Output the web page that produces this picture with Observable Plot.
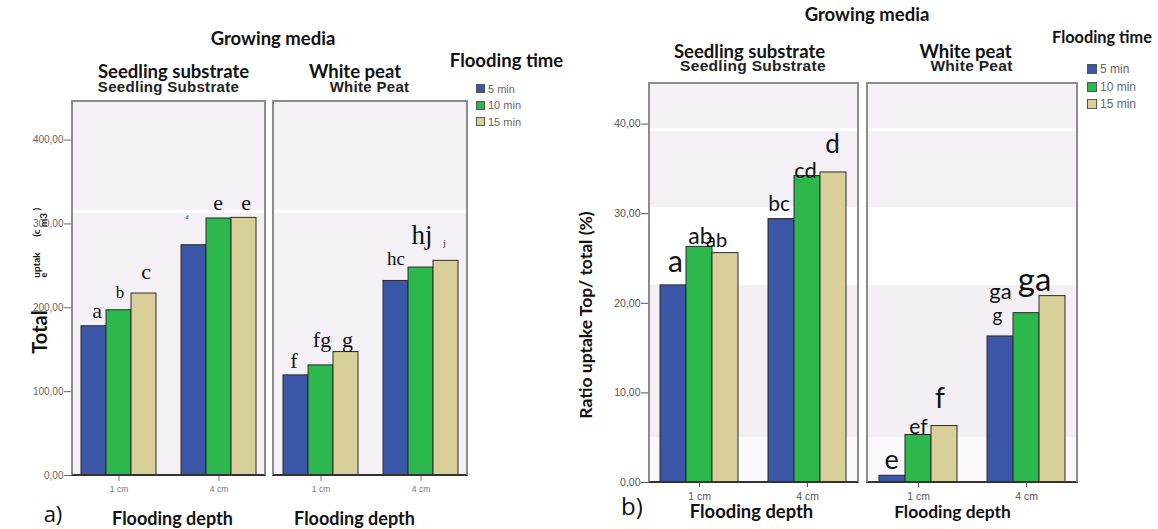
<!DOCTYPE html>
<html><head><meta charset="utf-8">
<script src="https://cdn.jsdelivr.net/npm/d3@7"></script>
<script src="https://cdn.jsdelivr.net/npm/@observablehq/plot@0.6"></script>
<style>
body{margin:0;background:#fff;}
#root{position:relative;width:1158px;height:529px;overflow:hidden;font-family:Lato,"Open Sans",sans-serif;}
.t{position:absolute;white-space:nowrap;line-height:1;}
.abs{position:absolute;}
</style></head><body><div id="root"></div>
<script>
// ---------- data ----------
const media = ["Seedling substrate", "White peat"];
const mediaSub = ["Seedling Substrate", "White Peat"];
const depths = ["1 cm", "4 cm"];
const times = ["5 min", "10 min", "15 min"];
const colors = ["#3b55a7", "#2cb84d", "#d8d098"];
// order of values: 1 cm (5, 10, 15 min), 4 cm (5, 10, 15 min)
const totalSeedling = [178, 197, 217, 274.6, 306.5, 307.2];
const totalWhitePeat = [119.4, 131.3, 147.2, 232, 248, 256];
const lettersTotalSeedling = ["a", "b", "c", "d", "e", "e"];
const lettersTotalWhitePeat = ["f", "fg", "g", "hc", "hj", "j"];
const ratioSeedling = [22.0, 26.3, 25.6, 29.4, 34.2, 34.6];
const ratioWhitePeat = [0.75, 5.3, 6.3, 16.3, 18.9, 20.8];
const lettersRatioSeedling = ["a", "ab", "ab", "bc", "cd", "d"];
const lettersRatioWhitePeat = ["e", "ef", "f", "g", "ga", "ga"];
const yTicksTotal = [0, 100, 200, 300, 400];
const yTicksRatio = [0, 10, 20, 30, 40];
const yDomainTotal = [0, 446];
const yDomainRatio = [0, 44.53];

// ---------- styles (label offsets dx, dy, font size) ----------
const styTotalSeedling = [[3,-8,22],[1,-12,17],[2,-15,22],[-7,-26,6],[-1,-8,22],[2,-8,22]];
const styTotalWhitePeat = [[-2,-7,22],[1,-18,22],[1.5,-5,22],[0,-16,19],[1,-24,27],[-1.5,-15,9]];
const styRatioSeedling = [[2,-13,30],[1,-3,23],[-9,-6,20],[-2.4,-8,21],[-2,1.6,22],[-1,-19,26]];
const styRatioWhitePeat = [[-1,-7,27],[0,-1,21],[-4.5,-18,28],[-3,-14.7,19],[-26,-14,22],[-18,-5,33]];

const root = document.getElementById("root");
function place(el, left, top, z) {
  const d = document.createElement("div");
  d.className = "abs"; d.style.left = left + "px"; d.style.top = top + "px"; d.style.zIndex = z || 1;
  d.append(el); root.append(d); return d;
}
function txt(s, cx, cy, css, rot) {
  const d = document.createElement("div");
  d.className = "t"; d.textContent = s;
  d.style.left = cx + "px"; d.style.top = cy + "px";
  d.style.transform = "translate(-50%,-50%)" + (rot ? " rotate(-90deg)" : "");
  Object.assign(d.style, css);
  root.append(d); return d;
}
function frameBox(f, bg) {
  const w = f.right - f.left, h = f.bottom - f.top;
  const b = document.createElement("div");
  b.className = "abs";
  Object.assign(b.style, {left: f.left + "px", top: f.top + "px", width: w + "px", height: h + "px", background: bg, zIndex: 0});
  root.append(b);
  const o = document.createElement("div");
  o.className = "abs";
  Object.assign(o.style, {left: (f.left - 1) + "px", top: (f.top - 1) + "px", width: (w + 2) + "px", height: (h + 2) + "px",
    boxSizing: "border-box", border: "2px solid #8c8c8c", borderBottom: "2px solid #333", zIndex: 3, pointerEvents: "none"});
  root.append(o);
}

function mediaPlot(f, values, letters, lsty, yDomain, o) {
  const rows = values.map((v, i) => ({depth: depths[Math.floor(i / 3)], time: times[i % 3], value: v, letter: letters[i]}));
  const w = f.right - f.left, h = f.bottom - f.top;
  const p = Plot.plot({
    width: w, height: h + 30, marginLeft: 0, marginRight: 0, marginTop: 0, marginBottom: 30,
    style: {background: "transparent", overflow: "visible", fontFamily: "'Liberation Sans', Arial, sans-serif", fontSize: o.tickFont + "px", color: o.tickColor},
    fx: {domain: depths, paddingInner: 0.255, paddingOuter: 0.092},
    x: {domain: times, padding: 0, axis: null},
    y: {domain: yDomain, axis: null},
    color: {domain: times, range: colors},
    marks: [
      Plot.barY(rows, {fx: "depth", x: "time", y: "value", fill: "time", stroke: "#2a2a2a", strokeWidth: 1}),
      ...rows.map((r, i) => Plot.text([r], {fx: "depth", x: "time", y: "value", text: "letter", lineAnchor: "bottom",
        dx: lsty[i][0], dy: lsty[i][1], fontSize: lsty[i][2], fontFamily: o.labelFont, fill: "#111"})),
      Plot.axisFx({anchor: "bottom", tickSize: o.tickSize, tickPadding: o.tickPad, label: null})
    ]
  });
  place(p, f.left, f.top, 2);
}
function yAxisPlot(f, yDomain, ticks, o) {
  const h = f.bottom - f.top;
  const p = Plot.plot({
    width: 80, height: h, marginLeft: 80, marginRight: 0, marginTop: 0, marginBottom: 0,
    style: {background: "transparent", overflow: "visible", fontFamily: "'Liberation Sans', Arial, sans-serif", fontSize: o.font + "px", color: o.color},
    y: {domain: yDomain},
    marks: [Plot.axisY(ticks, {tickSize: o.tickSize, tickPadding: 1, tickFormat: d => d.toFixed(2).replace(".", ","), label: null})]
  });
  place(p, f.left - 80, f.top, 2);
}
function legend(x, y0, step, size, font) {
  times.forEach((t, i) => {
    const s = document.createElement("div");
    s.className = "abs";
    Object.assign(s.style, {left: x + "px", top: (y0 + i * step) + "px", width: size + "px", height: size + "px",
      background: colors[i], border: "1px solid #555", boxSizing: "border-box"});
    root.append(s);
    const l = document.createElement("div");
    l.className = "t"; l.textContent = t;
    Object.assign(l.style, {left: (x + size + 3) + "px", top: (y0 + i * step + size / 2) + "px", transform: "translateY(-50%)",
      fontFamily: "'Liberation Sans', Arial, sans-serif", fontSize: font + "px", color: "#666"});
    root.append(l);
  });
}

const H = {fontWeight: "700", color: "#111"};
const SUB = {fontWeight: "700", color: "#222", fontFamily: "'Liberation Sans', Arial, sans-serif", letterSpacing: "0.3px"};

// ---------- panel a ----------
const fA1 = {left: 72, right: 265, top: 101, bottom: 475};
const fA2 = {left: 273, right: 467, top: 101, bottom: 475};
const bgA = "linear-gradient(to bottom, #f5f0f5 0px, #f5f0f5 109px, #ffffff 109px, #ffffff 112px, #f5f0f5 112px)";
frameBox(fA1, bgA); frameBox(fA2, bgA);
const oA = {tickFont: 8.5, tickColor: "#777", tickSize: 6, tickPad: 4, labelFont: "'Liberation Serif', 'Times New Roman', serif"};
mediaPlot(fA1, totalSeedling, lettersTotalSeedling, styTotalSeedling, yDomainTotal, oA);
mediaPlot(fA2, totalWhitePeat, lettersTotalWhitePeat, styTotalWhitePeat, yDomainTotal, oA);
yAxisPlot(fA1, yDomainTotal, yTicksTotal, {font: 10, color: "#666", tickSize: 8});

txt("Growing media", 273, 38, {...H, fontSize: "18.5px"});
txt(media[0], 173.5, 70.5, {...H, fontSize: "18.5px"});
txt(mediaSub[0], 168.5, 85.5, {...SUB, fontSize: "15px"});
txt(media[1], 355, 70.5, {...H, fontSize: "18.5px"});
txt(mediaSub[1], 369.5, 85.5, {...SUB, fontSize: "15px"});
txt("Flooding time", 506.5, 59.5, {...H, fontSize: "18.5px"});
legend(476, 84, 16.5, 9, 11);
txt("Total", 39, 332, {...H, fontSize: "20px"}, true);
txt("uptak", 35.5, 265, {...H, fontSize: "10px"}, true);
txt("e", 42.5, 274.5, {...H, fontSize: "9px"}, true);
txt("(c", 35.5, 232.5, {...H, fontSize: "10px"}, true);
txt(")", 35.5, 208.5, {...H, fontSize: "10px"}, true);
txt("m3", 43, 219.5, {...H, fontSize: "10px"}, true);
txt("a)", 53, 513, {fontSize: "22px", color: "#111", fontFamily: "'Open Sans', sans-serif"});
txt("Flooding depth", 172.5, 518, {...H, fontSize: "18px"});
txt("Flooding depth", 354.5, 518, {...H, fontSize: "18px"});

// ---------- panel b ----------
const fB1 = {left: 649, right: 858, top: 83, bottom: 482};
const fB2 = {left: 867, right: 1077, top: 83, bottom: 482};
const bgB = "linear-gradient(to bottom, #f5f0f5 0px, #f5f0f5 45px, #ffffff 45px, #ffffff 48px, #f5f0f5 48px, #f5f0f5 124px, #ffffff 124px, #ffffff 202px, #f4eff4 202px, #f4eff4 354px, #faf8fa 354px)";
frameBox(fB1, bgB); frameBox(fB2, bgB);
const oB = {tickFont: 10.5, tickColor: "#555", tickSize: 5, tickPad: 5, labelFont: "Lato, 'Open Sans', sans-serif"};
mediaPlot(fB1, ratioSeedling, lettersRatioSeedling, styRatioSeedling, yDomainRatio, oB);
mediaPlot(fB2, ratioWhitePeat, lettersRatioWhitePeat, styRatioWhitePeat, yDomainRatio, oB);
yAxisPlot(fB1, yDomainRatio, yTicksRatio, {font: 10.5, color: "#555", tickSize: 8});

txt("Growing media", 867, 14, {...H, fontSize: "18.5px"});
txt(media[0], 749.5, 50.5, {...H, fontSize: "18.5px"});
txt(mediaSub[0], 753, 65.5, {...SUB, fontSize: "15.5px"});
txt(media[1], 965.5, 50.5, {...H, fontSize: "18.5px"});
txt(mediaSub[1], 971.5, 65.5, {...SUB, fontSize: "15.5px"});
txt("Flooding time", 1102, 36.5, {...H, fontSize: "16.3px"});
legend(1087, 64, 17.5, 10, 12);
txt("Ratio uptake Top/ total (%)", 586, 315, {...H, fontSize: "17.5px"}, true);
txt("b)", 632, 506, {fontSize: "24px", color: "#111", fontFamily: "'Open Sans', sans-serif"});
txt("Flooding depth", 751.5, 511, {...H, fontSize: "18.4px"});
txt("Flooding depth", 952.5, 511.5, {...H, fontSize: "17.4px"});
</script>
</body></html>
